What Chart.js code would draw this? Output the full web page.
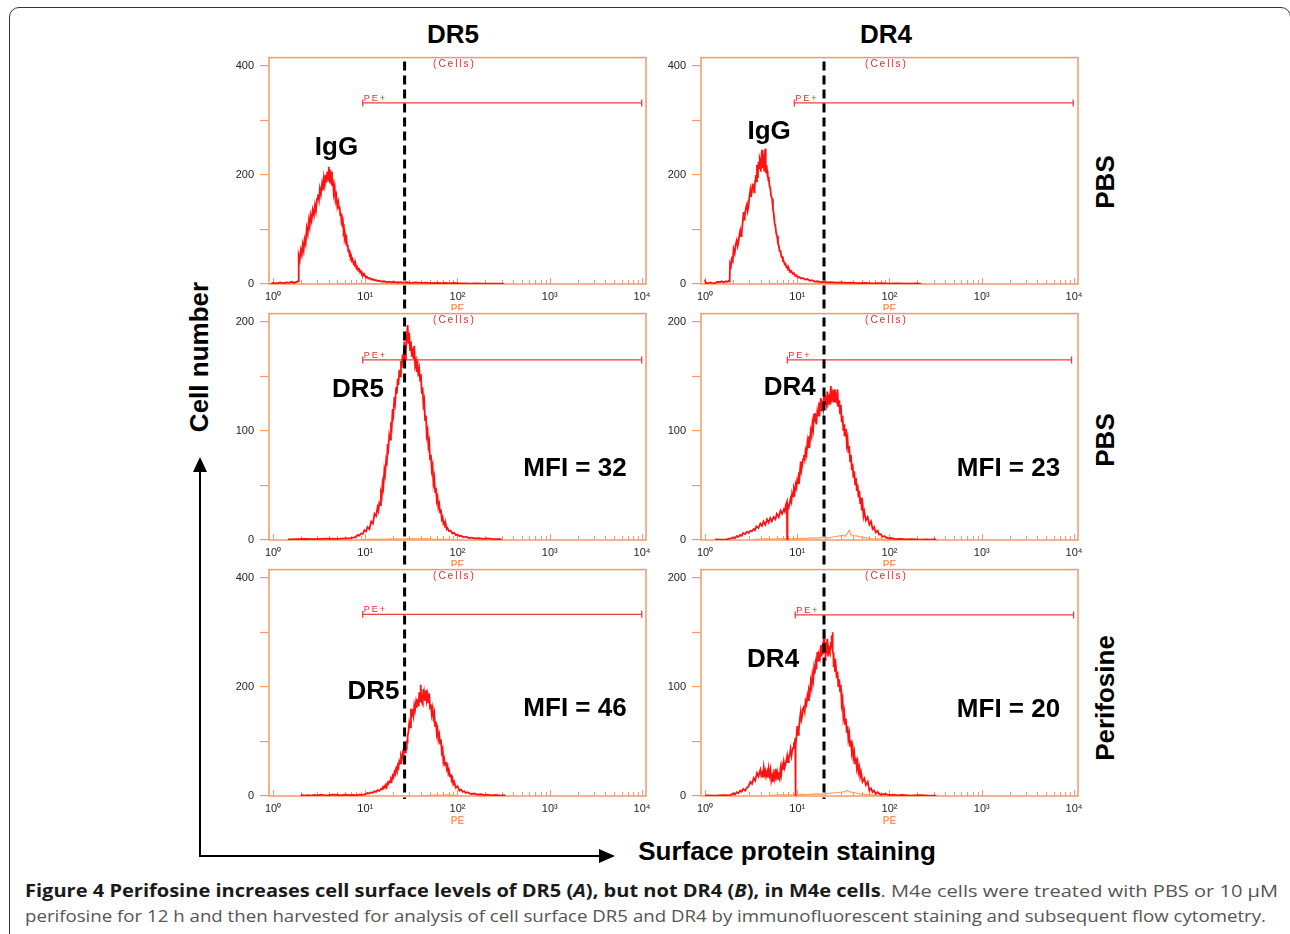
<!DOCTYPE html>
<html>
<head>
<meta charset="utf-8">
<script src="https://cdn.jsdelivr.net/npm/chart.js@4.4.1/dist/chart.umd.min.js"></script>
<style>
body { margin:0; width:1290px; height:934px; overflow:hidden; background:#fff; position:relative; font-family:'Liberation Sans', Arial, sans-serif; }
.frame { position:absolute; left:9px; top:7px; width:1282px; height:1000px; border:1.5px solid #333; border-radius:10px; box-sizing:border-box; }
canvas { position:absolute; }
.lbl { position:absolute; font-weight:bold; font-size:26px; line-height:26px; white-space:nowrap; color:#000; transform:translate(-50%,-50%); }
.rot { transform:translate(-50%,-50%) rotate(-90deg); }
.bar { position:absolute; background:#000; }
.cap { position:absolute; left:25px; font-family:'Open Sans', sans-serif; font-size:17px; line-height:25px; white-space:nowrap; color:#555; }
.cap span { display:inline-block; transform-origin:left center; }
.cap b { color:#1a1a1a; }
</style>
</head>
<body>
<div class="frame"></div>

<div class="lbl" style="left:453px; top:34px;">DR5</div>
<div class="lbl" style="left:886px; top:34px;">DR4</div>
<div class="lbl rot" style="left:1105px; top:182px;">PBS</div>
<div class="lbl rot" style="left:1105px; top:440px;">PBS</div>
<div class="lbl rot" style="left:1105px; top:698px;">Perifosine</div>
<div class="lbl rot" style="left:198.5px; top:357px;">Cell number</div>
<div class="lbl" style="left:787px; top:851px;">Surface protein staining</div>

<!-- arrows -->
<div class="bar" style="left:198.8px; top:470px; width:2.4px; height:387px;"></div>
<div style="position:absolute; left:193px; top:457px; width:0; height:0; border-left:7px solid transparent; border-right:7px solid transparent; border-bottom:15px solid #000;"></div>
<div class="bar" style="left:199px; top:854.8px; width:402px; height:2.4px;"></div>
<div style="position:absolute; left:599px; top:848.5px; width:0; height:0; border-top:7.5px solid transparent; border-bottom:7.5px solid transparent; border-left:16px solid #000;"></div>

<div class="cap" style="top:878px;" data-w="1253"><span><b>Figure 4 Perifosine increases cell surface levels of DR5 (<i>A</i>), but not DR4 (<i>B</i>), in M4e cells</b>. M4e cells were treated with PBS or 10 μM</span></div>
<div class="cap" style="top:903px;" data-w="1241"><span>perifosine for 12 h and then harvested for analysis of cell surface DR5 and DR4 by immunofluorescent staining and subsequent flow cytometry.</span></div>

<script>
// histogram channels: [PE intensity, cell count]
const iggDR5 = [[0.95,0],[1.0,2],[1.1,1],[1.2,3],[1.3,1],[1.4,3],[1.5,2],[1.6,4],[1.7,2],[1.8,4],[1.88,5],[1.9,52],[1.95,44],[2.0,62],[2.05,54],[2.1,72],[2.15,62],[2.2,82],[2.26,74],[2.32,102],[2.38,92],[2.45,116],[2.5,106],[2.55,126],[2.62,116],[2.7,136],[2.78,126],[2.85,144],[2.92,134],[3.0,156],[3.07,164],[3.15,154],[3.22,174],[3.3,164],[3.4,184],[3.48,172],[3.56,194],[3.64,182],[3.72,200],[3.8,186],[3.88,206],[3.95,192],[4.02,215],[4.08,188],[4.14,210],[4.2,184],[4.28,206],[4.36,180],[4.45,192],[4.55,166],[4.66,178],[4.76,154],[4.86,162],[4.98,142],[5.1,150],[5.2,138],[5.28,142],[5.36,126],[5.45,130],[5.52,116],[5.6,120],[5.68,104],[5.75,110],[5.82,96],[5.9,100],[5.98,86],[6.05,90],[6.15,80],[6.25,84],[6.35,70],[6.45,72],[6.55,60],[6.65,64],[6.75,54],[6.85,56],[6.95,48],[7.05,50],[7.15,43],[7.3,45],[7.45,38],[7.6,40],[7.75,33],[7.9,35],[8.05,29],[8.2,31],[8.4,25],[8.6,27],[8.8,21],[9.0,23],[9.2,18],[9.45,19],[9.7,15],[9.9,16],[10.2,12],[10.5,13],[10.8,10],[11.2,11],[11.6,8],[12,9],[12.5,7],[13,7.5],[13.6,5.5],[14.3,6],[15,4.5],[16,5],[17,3.5],[18,4.2],[19,3],[20,3.8],[22,2.8],[24,3.4],[26,2.6],[28,3.2],[31,2.2],[35,2.8],[40,2],[45,2.4],[52,1.6],[60,2],[68,1.4],[75,1.8],[82,1.2],[90,1.8],[105,1],[120,1.2],[140,0.8],[160,1],[190,0.6],[220,0.8],[260,0.5],[300,0.6],[320,0]];
const iggDR5Iso = [[5,0.4],[8,0.8],[12,0.6],[18,1],[25,0.8],[35,1],[50,0.8],[80,0.6],[130,0.5],[300,0.4]];

const iggDR4 = [[1.0,8],[1.02,1],[1.1,2],[1.15,3],[1.22,1],[1.3,2],[1.38,4],[1.45,3],[1.52,5],[1.6,3],[1.68,5],[1.75,4],[1.82,6],[1.85,5],[1.87,38],[1.91,34],[1.95,46],[2.0,42],[2.04,64],[2.1,56],[2.15,72],[2.21,80],[2.26,70],[2.3,76],[2.36,90],[2.41,98],[2.46,88],[2.5,94],[2.56,112],[2.62,132],[2.66,118],[2.7,126],[2.78,140],[2.85,146],[2.9,134],[2.95,140],[3.02,158],[3.1,172],[3.15,160],[3.2,166],[3.28,182],[3.37,180],[3.41,168],[3.45,178],[3.5,190],[3.55,200],[3.6,188],[3.66,218],[3.7,196],[3.75,208],[3.8,224],[3.85,212],[3.92,230],[3.98,226],[4.02,206],[4.05,218],[4.1,236],[4.15,246],[4.19,212],[4.22,222],[4.28,238],[4.33,228],[4.38,208],[4.42,216],[4.47,238],[4.51,248],[4.55,210],[4.6,204],[4.65,218],[4.71,208],[4.76,196],[4.8,202],[4.86,190],[4.91,196],[5.0,180],[5.1,176],[5.2,162],[5.34,156],[5.45,138],[5.55,130],[5.68,112],[5.8,106],[5.92,92],[6.05,88],[6.18,74],[6.31,70],[6.45,60],[6.6,60],[6.72,50],[6.86,50],[7.0,42],[7.15,42],[7.3,36],[7.46,37],[7.62,31],[7.8,32],[7.95,26],[8.11,28],[8.35,22],[8.6,24],[8.9,19],[9.2,20],[9.5,15],[9.8,16],[10.1,12],[10.4,13],[11,10],[11.5,11],[12.2,8],[12.9,9],[13.7,6],[14.5,7],[15.5,4.5],[16.5,5],[18,3.5],[19,4],[21,3],[23,3.5],[26,2.5],[30,3],[34,2],[38,2.4],[46,1.5],[55,1.8],[65,1],[80,1.4],[100,0.8],[120,1.2],[160,0.8],[204,1],[220,0]];
const iggDR4Iso = [[5,0.4],[8,0.8],[12,0.6],[18,1],[25,0.8],[35,1],[50,0.8],[80,0.6],[130,0.5],[250,0.4]];

const dr5Pbs = [[1.45,0.5],[1.8,0.8],[2.2,1],[2.8,0.8],[3.33,1],[4,1.2],[5.04,1],[6,1.5],[7,1.8],[7.64,2.4],[8.0,3.5],[8.3,4.6],[8.6,4],[9.0,6],[9.4,5.5],[9.8,9],[10.2,8],[10.6,12],[11.1,10],[11.6,17],[12.1,15],[12.6,24],[13.1,22],[13.6,30],[13.9,27],[14.2,34],[14.5,32],[14.8,43],[15.1,40],[15.4,52],[15.7,48],[16.1,64],[16.4,60],[16.8,72],[17.1,68],[17.5,88],[17.8,84],[18.2,96],[18.6,92],[19.0,108],[19.4,104],[19.8,120],[20.2,115],[20.7,131],[21.1,126],[21.6,140],[22.0,134],[22.5,148],[22.9,142],[23.4,156],[23.9,150],[24.4,164],[24.9,158],[25.4,170],[25.9,162],[26.5,182],[27.0,166],[27.6,174],[28.2,186],[28.8,197],[29.4,180],[30.0,190],[30.6,174],[31.3,182],[32.0,168],[32.6,176],[33.3,166],[34.0,178],[34.7,160],[35.5,164],[36.2,154],[37.0,160],[37.7,150],[38.5,156],[39.3,146],[40.1,152],[41.0,134],[41.8,140],[42.7,124],[43.6,128],[44.5,110],[45.5,114],[46.4,96],[47.4,100],[48.4,86],[49.4,90],[50.4,74],[51.5,78],[52.6,64],[53.7,68],[54.8,52],[56.0,57],[57.2,44],[58.4,48],[59.6,36],[60.8,39],[62,30],[63.4,33],[64.7,25],[66.1,28],[67.5,19],[69,21],[70.4,15],[71.8,16],[73.4,12],[75,13.5],[76.5,10],[78.0,11],[81,8],[84.7,8.5],[88,6],[92,6.5],[96,4.5],[100,5],[105,3.5],[109,4],[117,2.5],[125,3],[132,1.8],[139,2.2],[155,1.5],[170,1.8],[190,1],[211,1.4],[250,0.8],[294,0.8],[300,0]];
const dr5PbsIso = [[9,0.4],[12,0.8],[16,0.6],[20,1],[25,0.8],[30,1.2],[36,1],[44,1.2],[55,0.8],[70,0.6],[90,0.4]];

const dr4Pbs = [[1.29,0.5],[1.5,0.4],[1.72,0.6],[1.9,1.5],[2.04,2.4],[2.12,1.8],[2.2,3.5],[2.3,2.8],[2.41,4.6],[2.5,3.8],[2.6,6.5],[2.72,5.5],[2.85,7.6],[2.97,6.5],[3.1,8.5],[3.23,8],[3.37,10],[3.48,9],[3.6,12.5],[3.8,11],[3.98,15],[4.15,13],[4.3,17],[4.5,14],[4.71,19],[4.9,16],[5.1,20],[5.3,17],[5.56,21],[5.8,19],[6.0,24],[6.3,21],[6.58,27],[6.85,24],[7.15,28],[7.35,26],[7.5,32],[7.72,35],[7.78,0],[7.84,33],[8.1,30],[8.46,38],[8.65,35],[8.8,43],[9.0,40],[9.2,47],[9.4,44],[9.6,51],[9.8,48],[10,55],[10.2,52],[10.4,62],[10.6,58],[10.9,72],[11.1,64],[11.3,68],[11.55,74],[11.8,78],[12.05,74],[12.3,82],[12.6,78],[12.9,90],[13.15,85],[13.4,95],[13.7,90],[14.0,100],[14.3,96],[14.6,107],[14.9,102],[15.2,116],[15.5,108],[15.8,112],[16.1,106],[16.5,118],[16.85,114],[17.2,126],[17.6,120],[18.0,130],[18.35,118],[18.7,124],[19.1,120],[19.5,133],[19.9,124],[20.3,128],[20.75,124],[21.2,136],[21.65,126],[22.1,130],[22.6,124],[23.1,141],[23.6,130],[24.1,134],[24.6,126],[25.1,138],[25.65,126],[26.2,132],[26.75,128],[27.3,138],[27.9,122],[28.5,128],[29.1,116],[29.7,124],[30.3,108],[31.0,114],[31.6,100],[32.3,106],[32.5,95],[33.0,98],[33.7,102],[34.4,88],[35.1,93],[35.8,80],[36.6,86],[37.4,72],[38.2,78],[39.0,64],[39.8,70],[40.6,57],[41.5,63],[42.4,51],[43.3,57],[44.2,45],[45.1,51],[46.1,39],[47.1,45],[48.1,33],[49.1,39],[50.1,27],[51.2,32],[52.3,22],[53.4,26],[55.5,18],[58,21],[60.5,14],[63.1,17],[65.5,10],[68,12],[71,7],[74.6,8.5],[77,5],[80,5.5],[84,3],[88.2,3.5],[96,1.5],[104,1.8],[115,0.8],[130,1],[150,0.5],[172,0.8],[210,0.4],[250,0.6],[280,0.3],[310,0.7],[320,0]];
const dr4PbsIso = [[3.4,0.5],[4.5,1],[5.6,0.8],[7,1.2],[8.5,1],[10,1.5],[12,1.2],[14,2],[16.5,1.8],[19,2.4],[22,2],[25,3],[28,3.5],[31,4.5],[33,3.5],[35,6],[36.6,9],[38,5],[41,4],[45,3.5],[50,2.4],[56,2],[63,1.2],[75,1],[88,0.5]];

const dr5Peri = [[2.0,2],[2.2,0.5],[2.4,1.5],[2.6,0.5],[2.8,2],[3.0,1],[3.33,2.5],[3.6,1],[4,1.5],[4.5,2.5],[5.04,2],[5.5,1],[6,2.5],[6.7,1.5],[7.5,2],[8.0,1],[8.5,2.5],[9.2,2],[9.8,3],[10.2,4],[10.6,5.5],[11,4.5],[11.5,6.5],[12,6],[12.6,8.5],[13.1,7.5],[13.6,11],[14.2,9.5],[14.8,13],[15.1,12],[15.5,16],[15.8,14],[16.1,18],[16.4,16],[16.8,21],[17.1,19],[17.5,24],[17.8,22],[18.2,27],[18.6,25],[19.0,31],[19.4,28],[19.8,37],[20.2,34],[20.7,44],[21.1,40],[21.6,50],[22.0,46],[22.5,56],[22.9,52],[23.4,64],[23.9,60],[24.4,72],[24.9,66],[25.4,78],[25.9,72],[26.5,86],[27.0,80],[27.6,92],[27.9,86],[28.2,102],[28.5,98],[28.8,110],[29.4,118],[30.0,134],[30.6,126],[31.3,160],[31.9,148],[32.6,154],[33.3,146],[34.0,166],[34.7,158],[35.5,172],[36.2,162],[37.0,178],[37.5,166],[38.0,170],[38.5,190],[38.9,176],[39.3,184],[39.7,172],[40.1,204],[40.5,180],[41.0,186],[41.4,170],[41.8,178],[42.2,168],[42.7,196],[43.1,178],[43.6,188],[44.5,176],[45.5,194],[46.4,176],[47.4,186],[48.4,170],[49.4,188],[50.4,160],[51.5,168],[52.6,150],[53.7,160],[54.8,144],[56.0,152],[57.2,128],[58.4,136],[59.6,114],[60.8,122],[62,104],[63.4,112],[64.7,96],[66.1,104],[67.5,80],[69,86],[70.4,62],[71.8,68],[73.4,56],[75,62],[76.5,50],[78.0,55],[79.5,42],[81,47],[83,36],[84.7,40],[86.3,29],[88,33],[90,22],[92,26],[96,15],[100,18],[105,10],[109,12],[114,7.5],[118,9],[123,5.5],[128,7],[140,3.5],[151,4.5],[165,2.5],[180,3.2],[195,1.8],[211,2.6],[235,1.2],[260,1.8],[290,0.8],[320,1.4],[330,0]];
const dr5PeriIso = [[40,0.5],[50,1],[58,1.5],[65,1.2],[75,2],[85,1.5],[95,1],[110,0.5]];

const dr4Peri = [[1.0,0.6],[1.3,0.4],[1.6,0.8],[1.87,0.6],[2.04,2.4],[2.12,1.5],[2.2,3.5],[2.3,2.5],[2.41,5],[2.5,4],[2.6,6.5],[2.72,5],[2.85,7.5],[2.97,9],[3.1,13],[3.23,11],[3.37,16.5],[3.5,14],[3.66,21],[3.8,18],[3.98,24],[4.07,19],[4.15,21],[4.24,17],[4.33,26],[4.42,20],[4.5,23],[4.6,18],[4.71,22],[4.8,17],[4.9,25],[5.0,19],[5.12,24],[5.23,14],[5.35,18],[5.45,13],[5.56,20],[5.68,16],[5.8,25],[5.92,18],[6.05,22],[6.18,15],[6.3,19],[6.44,16],[6.58,25],[6.7,20],[6.85,28],[7.0,24],[7.15,31],[7.3,26],[7.45,29],[7.6,32],[7.78,37],[7.95,31],[8.1,35],[8.3,38],[8.46,43],[8.65,37],[8.8,41],[9.0,44],[9.2,49],[9.35,46],[9.5,53],[9.55,0],[9.65,46],[9.8,54],[10,64],[10.2,56],[10.4,61],[10.65,70],[10.9,77],[11.1,70],[11.3,73],[11.55,80],[11.8,83],[12.05,78],[12.3,87],[12.6,84],[12.9,92],[13.15,88],[13.4,97],[13.7,94],[14.0,105],[14.3,100],[14.6,111],[14.9,106],[15.2,117],[15.5,112],[15.8,121],[16.1,116],[16.5,132],[16.85,124],[17.2,129],[17.6,126],[18.0,138],[18.35,128],[18.7,135],[19.1,130],[19.5,153],[19.75,136],[20.0,141],[20.2,124],[20.4,129],[20.6,132],[20.8,139],[21.0,136],[21.2,144],[21.65,128],[22.1,135],[22.6,132],[23.1,141],[23.35,136],[23.6,147],[23.85,138],[24.1,150],[24.35,132],[24.6,131],[24.85,118],[25.1,126],[25.65,114],[26.2,119],[26.75,108],[27.3,114],[27.9,100],[28.5,107],[29.1,96],[29.7,102],[30.3,84],[31.0,89],[31.6,72],[32.3,77],[33.0,66],[33.7,71],[34.4,58],[35.1,64],[35.8,52],[36.6,57],[37.4,46],[38.2,51],[39.0,40],[39.8,45],[40.6,35],[41.5,40],[42.4,30],[43.3,35],[44.2,26],[45.1,31],[46.1,22],[47.1,26],[48.1,18],[49.1,22],[51,13],[53.4,16],[55.5,10],[58.1,13],[60.5,5],[63.1,7],[65.5,3.5],[68,5],[71,2],[74.6,3.5],[80,1.2],[88.2,2],[100,0.8],[110,1.2],[122,0.6],[134,1],[170,0.4],[204,0.8],[250,0.5],[280,0.2],[310,0.5],[320,0]];
const dr4PeriIso = [[5,0.5],[7,1],[9,0.8],[11,1.5],[13,1.2],[16,2],[19,1.8],[22,2.4],[26,3],[30,3.5],[33,4],[35,5],[38,3.5],[42,3],[48,2],[55,1.5],[65,1],[80,0.6]];

// PE+ gates: [low, high, height]
const gateR1L = [9.4, 9930, 332];
const gateR1R = [9.3, 9800, 332];
const gateR2L = [9.4, 9930, 165];
const gateR2R = [7.8, 9400, 165];
const gateR3L = [9.4, 9930, 333];
const gateR3R = [9.5, 9900, 166];

// dashed reference line (PE value) for each column
const markerDR5 = 26.7;
const markerDR4 = 19.5;

const decades = [1, 10, 100, 1000, 10000];
const decadeLabels = ['10⁰', '10¹', '10²', '10³', '10⁴'];

const AXIS = '#f4996b';
const RED = '#ff1212';
const ORANGE = '#f8a05c';
const GATE = '#ee3c3c';
const GATE_TXT = '#ee2a2a';

const colLeft = [269, 701];
const rowTop = [57, 313, 569];
const plotW = 377, plotH = 227, yAxisW = 54, xAxisH = 28, padTop = 12, padRight = 6;

const panels = [
  { row: 0, col: 0, red: iggDR5, orange: iggDR5Iso, ymax: 415, ystep: 100, ylabels: [0, 200, 400], gate: gateR1L, marker: markerDR5, notes: [['IgG', 4.88, 253]] },
  { row: 0, col: 1, red: iggDR4, orange: iggDR4Iso, ymax: 415, ystep: 100, ylabels: [0, 200, 400], gate: gateR1R, marker: markerDR4, notes: [['IgG', 4.95, 282]] },
  { row: 1, col: 0, red: dr5Pbs, orange: dr5PbsIso, ymax: 207.5, ystep: 50, ylabels: [0, 100, 200], gate: gateR2L, marker: markerDR5, notes: [['DR5', 8.35, 140], ['MFI = 32', 1879, 67]] },
  { row: 1, col: 1, red: dr4Pbs, orange: dr4PbsIso, ymax: 207.5, ystep: 50, ylabels: [0, 100, 200], gate: gateR2R, marker: markerDR4, notes: [['DR4', 8.27, 141], ['MFI = 23', 1950, 67.5]] },
  { row: 2, col: 0, red: dr5Peri, orange: dr5PeriIso, ymax: 415, ystep: 100, ylabels: [0, 200, 400], gate: gateR3L, marker: markerDR5, notes: [['DR5', 12.3, 195], ['MFI = 46', 1879, 163.7]] },
  { row: 2, col: 1, red: dr4Peri, orange: dr4PeriIso, ymax: 207.5, ystep: 50, ylabels: [0, 100, 200], gate: gateR3R, marker: markerDR4, notes: [['DR4', 5.47, 126.7], ['MFI = 20', 1950, 81.3]] },
];

Chart.defaults.font.family = "'Liberation Sans', Arial, sans-serif";

const toXY = (pairs) => pairs.map(([x, y]) => ({ x, y }));

function decor(p) {
  return {
    id: 'decor',
    beforeDatasetsDraw(chart) {
      const { ctx, chartArea: a, scales: { x } } = chart;
      ctx.save();
      ctx.strokeStyle = AXIS;
      ctx.lineWidth = 1.5;
      ctx.strokeRect(a.left, a.top, a.right - a.left, a.bottom - a.top);
      ctx.lineWidth = 1;
      x.ticks.forEach(t => {
        const px = Math.round(x.getPixelForValue(t.value)) + 0.5;
        const len = decades.includes(t.value) ? 6 : 4;
        ctx.beginPath();
        ctx.moveTo(px, a.bottom);
        ctx.lineTo(px, a.bottom - len);
        ctx.stroke();
      });
      ctx.restore();
    },
    afterDraw(chart) {
      const { ctx, chartArea: a, scales: { x, y } } = chart;
      const mid = (a.left + a.right) / 2;
      ctx.save();
      ctx.fillStyle = GATE_TXT;
      ctx.font = '10px "Liberation Sans"';
      ctx.letterSpacing = '2px';
      ctx.textAlign = 'center';
      ctx.fillText('(Cells)', mid - 3, a.top + 9.5);
      ctx.font = '9px "Liberation Sans"';
      ctx.textAlign = 'left';
      ctx.fillText('PE+', x.getPixelForValue(p.gate[0]) + 1, y.getPixelForValue(p.gate[2]) - 2);
      ctx.letterSpacing = '0px';

      // dashed line
      const mx = x.getPixelForValue(p.marker);
      ctx.strokeStyle = '#000';
      ctx.lineWidth = 3;
      ctx.setLineDash([9, 5]);
      ctx.beginPath();
      ctx.moveTo(mx, a.top + 4);
      ctx.lineTo(mx, p.row < 2 ? chart.height : a.bottom + 3);
      ctx.stroke();
      ctx.setLineDash([]);

      ctx.fillStyle = '#000';
      ctx.font = 'bold 26px "Liberation Sans"';
      ctx.textAlign = 'center';
      p.notes.forEach(([txt, vx, vy]) => {
        ctx.fillText(txt, x.getPixelForValue(vx), y.getPixelForValue(vy) + 9.3);
      });

      // axis title, partly hidden under the next panel
      ctx.beginPath();
      ctx.rect(0, 0, chart.width, p.row < 2 ? a.bottom + 26.6 : chart.height);
      ctx.clip();
      ctx.fillStyle = AXIS;
      ctx.font = 'bold 10px "Liberation Sans"';
      ctx.fillText('PE', mid, a.bottom + 28);
      ctx.restore();
    }
  };
}

panels.forEach((p) => {
  const cv = document.createElement('canvas');
  const w = yAxisW + plotW + padRight, h = padTop + plotH + xAxisH;
  cv.width = w; cv.height = h;
  cv.style.width = w + 'px'; cv.style.height = h + 'px';
  cv.style.left = (colLeft[p.col] - yAxisW) + 'px';
  cv.style.top = (rowTop[p.row] - padTop) + 'px';
  document.body.appendChild(cv);

  const xTicks = [];
  decades.forEach(d => {
    xTicks.push(d);
    if (d < 10000) [2, 3, 4, 5, 6, 7, 8, 9].forEach(m => xTicks.push(d * m));
  });

  new Chart(cv, {
    type: 'scatter',
    data: {
      datasets: [
        { data: toXY(p.red), showLine: true, borderColor: RED, borderWidth: 1.8, pointRadius: 0, tension: 0 },
        { data: toXY(p.orange), showLine: true, borderColor: ORANGE, borderWidth: 1.2, pointRadius: 0, tension: 0 },
        { data: [{ x: p.gate[0], y: p.gate[2] }, { x: p.gate[1], y: p.gate[2] }], showLine: true,
          borderColor: GATE, borderWidth: 1.2, pointStyle: 'line', pointRotation: 90, pointRadius: 3.5,
          pointBorderColor: GATE, pointBorderWidth: 1.3 }
      ]
    },
    options: {
      responsive: false,
      animation: false,
      layout: { padding: { top: padTop, right: padRight, left: 0, bottom: 0 } },
      plugins: { legend: { display: false }, tooltip: { enabled: false } },
      scales: {
        x: {
          type: 'logarithmic', min: 0.905, max: 11050,
          afterBuildTicks: (s) => { s.ticks = xTicks.map(v => ({ value: v })); },
          afterFit: (s) => { s.height = xAxisH; s.paddingLeft = 0; s.paddingRight = 0; },
          grid: { display: false, drawTicks: false },
          border: { display: false },
          ticks: {
            autoSkip: false, maxRotation: 0, minRotation: 0, padding: 6, color: '#222', font: { size: 11 },
            callback: (v) => { const k = decades.indexOf(v); return k >= 0 ? decadeLabels[k] : ''; }
          }
        },
        y: {
          min: 0, max: p.ymax,
          afterFit: (s) => { s.width = yAxisW; },
          grid: { drawOnChartArea: false, drawTicks: true, tickLength: 9, color: AXIS, lineWidth: 1.2 },
          border: { display: false },
          ticks: {
            stepSize: p.ystep, includeBounds: false, autoSkip: false, padding: 6, color: '#222', font: { size: 11 },
            callback: (v) => p.ylabels.includes(v) ? String(v) : ''
          }
        }
      }
    },
    plugins: [decor(p)]
  });
});

// squeeze caption lines to the printed width
document.querySelectorAll('.cap').forEach(el => {
  const span = el.firstElementChild;
  const w = span.getBoundingClientRect().width;
  span.style.transform = 'scaleX(' + (Number(el.dataset.w) / w) + ')';
});
</script>
</body>
</html>
